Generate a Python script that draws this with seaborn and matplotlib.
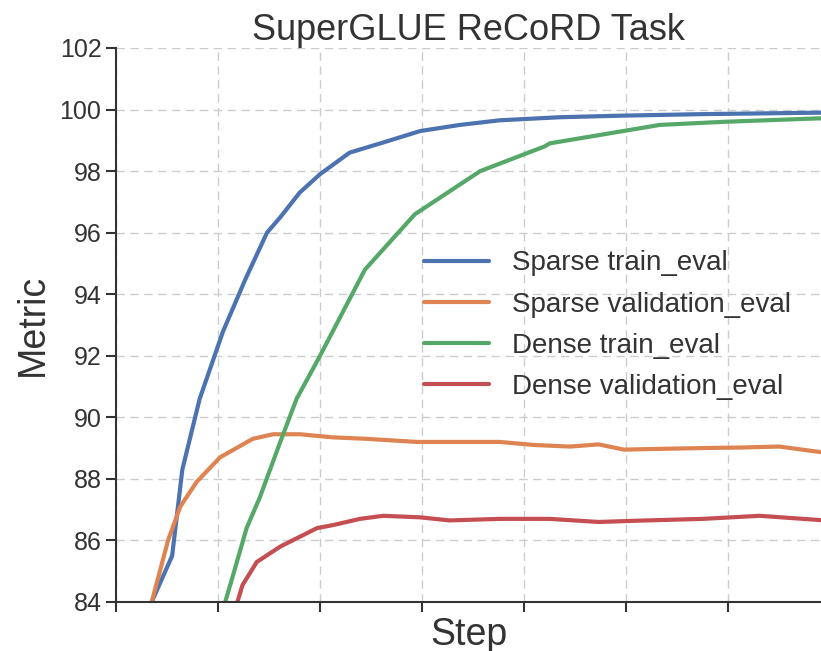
import matplotlib
matplotlib.use("Agg")
import matplotlib.pyplot as plt
import seaborn as sns
import pandas as pd

# Evaluation curves (step in units of tick spacing, metric in %)
sparse_train_step = [0.35, 0.55, 0.65, 0.82, 1.05, 1.27, 1.48, 1.61, 1.80, 2.00,
                     2.29, 2.59, 2.98, 3.37, 3.76, 4.35, 4.94, 5.73, 6.95]
sparse_train_val = [84.0, 85.5, 88.3, 90.6, 92.8, 94.5, 96.0, 96.5, 97.3, 97.9,
                    98.6, 98.9, 99.3, 99.5, 99.65, 99.75, 99.8, 99.85, 99.9]

sparse_valid_step = [0.35, 0.51, 0.63, 0.79, 1.02, 1.34, 1.54, 1.80, 2.12, 2.46,
                     2.95, 3.27, 3.76, 4.10, 4.45, 4.73, 4.98, 5.25, 5.73, 6.15,
                     6.50, 6.95]
sparse_valid_val = [84.0, 86.0, 87.1, 87.9, 88.7, 89.3, 89.45, 89.45, 89.35, 89.3,
                    89.2, 89.2, 89.2, 89.1, 89.05, 89.12, 88.95, 88.97, 89.0, 89.02,
                    89.05, 88.85]

dense_train_step = [1.07, 1.15, 1.28, 1.41, 1.61, 1.77, 2.00, 2.44, 2.93, 3.57,
                    4.20, 4.25, 4.97, 5.33, 5.95, 6.95]
dense_train_val = [84.0, 84.9, 86.4, 87.4, 89.2, 90.6, 92.0, 94.8, 96.6, 98.0,
                   98.8, 98.9, 99.3, 99.5, 99.6, 99.72]

dense_valid_step = [1.19, 1.24, 1.38, 1.61, 1.97, 2.13, 2.39, 2.62, 2.98, 3.27,
                    3.76, 4.25, 4.73, 5.20, 5.75, 6.31, 6.95]
dense_valid_val = [84.0, 84.55, 85.3, 85.8, 86.4, 86.5, 86.7, 86.8, 86.75, 86.65,
                   86.7, 86.7, 86.6, 86.65, 86.7, 86.8, 86.65]

labels = ["Sparse train_eval", "Sparse validation_eval",
          "Dense train_eval", "Dense validation_eval"]

frames = []
for name, xs, ys in zip(labels,
                        [sparse_train_step, sparse_valid_step, dense_train_step, dense_valid_step],
                        [sparse_train_val, sparse_valid_val, dense_train_val, dense_valid_val]):
    frames.append(pd.DataFrame({"Step": xs, "Metric": ys, "Series": name}))
df = pd.concat(frames, ignore_index=True)

sns.set_theme(style="ticks", palette="deep")
plt.rcParams["font.family"] = ["Liberation Sans", "DejaVu Sans"]
text_color = "#333333"

fig = plt.figure(figsize=(8.21, 6.51), dpi=100)
ax = fig.add_axes([0.1413, 0.0753, 0.8587, 0.851])

sns.lineplot(data=df, x="Step", y="Metric", hue="Series", hue_order=labels,
             palette=sns.color_palette("deep", 4), linewidth=3.0, ax=ax,
             estimator=None, sort=False)

ax.set_xlim(0, 6.91)
ax.set_ylim(84, 102)
ax.set_yticks(range(84, 103, 2))
ax.set_xticks(range(0, 7))
ax.set_xticklabels([])
ax.grid(True, linestyle=(0, (6, 4)), color="#cccccc", linewidth=1.0)
ax.set_axisbelow(True)

for side in ["top", "right"]:
    ax.spines[side].set_visible(False)
for side in ["left", "bottom"]:
    ax.spines[side].set_color("#333333")
    ax.spines[side].set_linewidth(1.5)
ax.tick_params(axis="both", direction="out", length=7, width=1.5, color="#333333",
               labelsize=18, labelcolor=text_color)

ax.set_title("SuperGLUE ReCoRD Task", fontsize=26, color=text_color, pad=4)
ax.set_xlabel("Step", fontsize=27, color=text_color, labelpad=0)
ax.set_ylabel("Metric", fontsize=27, color=text_color, labelpad=6)

leg = ax.legend(loc="upper left", bbox_to_anchor=(0.401, 0.68), frameon=False,
                fontsize=20, handlelength=2.34, labelspacing=0.55, handletextpad=0.83)
for t in leg.get_texts():
    t.set_color(text_color)

fig.savefig("out.png", dpi=100)
